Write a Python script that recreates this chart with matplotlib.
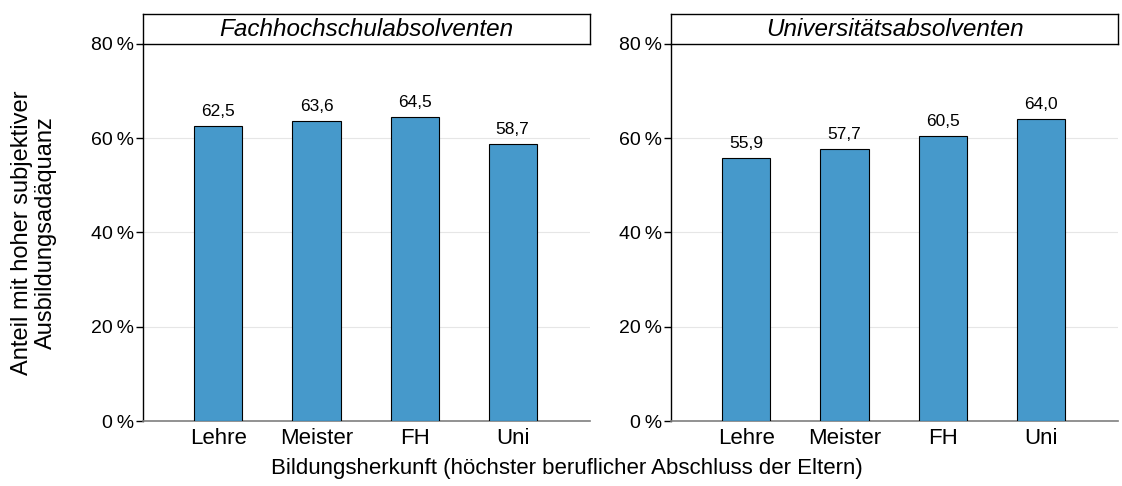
import matplotlib
matplotlib.use('Agg')
import matplotlib.pyplot as plt

plt.rcParams['font.family'] = ['Liberation Sans', 'DejaVu Sans']

categories = ['Lehre', 'Meister', 'FH', 'Uni']
panels = ['Fachhochschulabsolventen', 'Universitätsabsolventen']
fh_values = [62.5, 63.6, 64.5, 58.7]
uni_values = [55.9, 57.7, 60.5, 64.0]
y_ticks = [0, 20, 40, 60, 80]

BAR_COLOR = '#4699cb'

fig = plt.figure(figsize=(11.22, 4.86), dpi=100)

ax_h = 377 / 486
ax_b = 1 - 421 / 486
strip_h = 30 / 486
lefts = [143 / 1122, 671 / 1122]
width = 447 / 1122

for left, title, vals in zip(lefts, panels, [fh_values, uni_values]):
    ax = fig.add_axes([left, ax_b, width, ax_h])
    xs = list(range(1, len(categories) + 1))
    ax.bar(xs, vals, width=0.49, color=BAR_COLOR, edgecolor='black',
           linewidth=0.8, zorder=3)
    for x, v in zip(xs, vals):
        ax.text(x, v + 1.5, f'{v:.1f}'.replace('.', ','), ha='center',
                va='bottom', fontsize=12.5)
    ax.set_xlim(0.23, 4.79)
    ax.set_ylim(0, 80)
    ax.set_xticks(xs)
    ax.set_xticklabels(categories, fontsize=16)
    ax.set_yticks(y_ticks)
    ax.set_yticklabels([f'{t}\u2009%' for t in y_ticks], fontsize=14)
    ax.tick_params(axis='x', length=0, pad=5)
    ax.tick_params(axis='y', length=5, width=1, color='black', pad=1.5)
    ax.grid(axis='y', color='#e6e6e6', linewidth=0.8, zorder=0)
    ax.set_axisbelow(True)
    for s in ['top', 'right']:
        ax.spines[s].set_visible(False)
    ax.spines['left'].set_color('black')
    ax.spines['left'].set_linewidth(1)
    ax.spines['bottom'].set_color('#7f7f7f')
    ax.spines['bottom'].set_linewidth(1.2)

    # facet strip
    sax = fig.add_axes([left, ax_b + ax_h, width, strip_h])
    sax.set_xticks([])
    sax.set_yticks([])
    for s in sax.spines.values():
        s.set_color('black')
        s.set_linewidth(1)
    sax.text(0.5, 0.5, title, ha='center', va='center', fontsize=17.5,
             style='italic', transform=sax.transAxes)

fig.text(0.0305, ax_b + ax_h / 2,
         'Anteil mit hoher subjektiver\nAusbildungsadäquanz',
         rotation=90, ha='center', va='center', fontsize=17,
         linespacing=1.12)
fig.text(0.505, 0.035,
         'Bildungsherkunft (höchster beruflicher Abschluss der Eltern)',
         ha='center', va='center', fontsize=16)

fig.savefig('out.png', dpi=100)
